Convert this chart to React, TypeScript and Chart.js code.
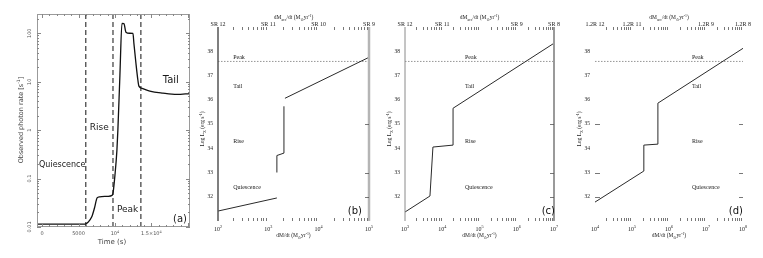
import React, { useEffect, useRef } from "react";
import { Chart, registerables } from "chart.js";
Chart.register(...registerables);

const SANS = "'DejaVu Sans', 'Liberation Sans', sans-serif";
const SERIF = "'Liberation Serif', 'DejaVu Serif', serif";

// ---------- Panel (a): light curve ----------
const lightCurveTime = [-700, 5900, 6300, 6800, 7200, 7550, 7900, 9000, 9600, 9730, 10000, 10270, 10400, 10680, 10960, 11230, 11510, 12000, 12470, 12600, 12880, 13150, 13290, 13700, 14790, 16580, 18490, 20270];
const lightCurveRate = [0.0115, 0.0115, 0.0125, 0.016, 0.025, 0.04, 0.042, 0.043, 0.045, 0.05, 0.118, 0.386, 1.0, 13.6, 160, 158, 105, 100, 99, 62, 24, 10.7, 8.1, 7.3, 6.4, 5.8, 5.45, 5.7];
const phaseBoundaries = [6000, 9730, 13560];
const aXRange = [-700, 20300];
const aYRange = [0.01, 250];
const aYTicks = [0.01, 0.1, 1, 10, 100];
const aYTickLabels = ["0.01", "0.1", "1", "10", "100"];
const aXTicks = [0, 5000, 10000, 15000];
const aXTickLabels: [string, number][][] = [[["0", 0]], [["5000", 0]], [["10", 0], ["4", 1]], [["1.5×10", 0], ["4", 1]]];
const aPhaseNames = ["Quiescence", "Rise", "Peak", "Tail"];
const aPhaseTime = [-420, 6550, 10270, 16550];
const aPhaseRate = [0.19, 1.1, 0.0224, 10.7];
const aPhaseSize = [8, 9, 9, 10];

// ---------- Panels (b)-(d): log L vs dM/dt ----------
const logLRange = [31, 39];
const logLTicks = [32, 33, 34, 35, 36, 37, 38];
const sideTicks = [32, 33, 35];
const peakLogL = 37.58;
const regionNames = ["Peak", "Tail", "Rise", "Quiescence"];
const regionLogL = [37.76, 36.53, 34.3, 32.4];

const bMdotRange = [1e2, 1e5];
const bTopLabels = ["SR 12", "SR 11", "SR 10", "SR 9"];
const bSegMdot = [[100, 1479], [1479, 1479, 2042, 2042], [2138, 100000]];
const bSegLogL = [[31.41, 31.95], [33.0, 33.7, 33.8, 35.73], [36.06, 37.75]];
const bRegionMdot = 200;

const cMdotRange = [1e3, 1e7];
const cTopLabels = ["SR 12", "SR 11", "", "SR 9", "SR 8"];
const cSegMdot = [[1000, 4677, 5623, 19498, 19498, 1e7]];
const cSegLogL = [[31.37, 32.03, 34.05, 34.13, 35.65, 38.33]];
const cRegionMdot = 40738;

const dMdotRange = [1e4, 1e8];
const dTopLabels = ["1.2R 12", "1.2R 11", "", "1.2R 9", "1.2R 8"];
const dSegMdot = [[1e4, 208930, 208930, 501187, 501187, 1e8]];
const dSegLogL = [[31.78, 33.06, 34.13, 34.17, 35.86, 38.12]];
const dRegionMdot = 4.17e6;

type Part = [string, number];

function drawRich(ctx: CanvasRenderingContext2D, parts: Part[], x: number, y: number, size: number, family: string, align: string) {
  let w = 0;
  for (const [t, m] of parts) {
    ctx.font = `${m ? size * 0.7 : size}px ${family}`;
    w += ctx.measureText(t).width;
  }
  let cx = align === "center" ? x - w / 2 : align === "right" ? x - w : x;
  ctx.textAlign = "left";
  ctx.textBaseline = "middle";
  for (const [t, m] of parts) {
    const s = m ? size * 0.7 : size;
    ctx.font = `${s}px ${family}`;
    ctx.fillText(t, cx, y + (m === 1 ? -size * 0.35 : m === -1 ? size * 0.3 : 0));
    cx += ctx.measureText(t).width;
  }
}

function seg(ctx: CanvasRenderingContext2D, x1: number, y1: number, x2: number, y2: number) {
  ctx.beginPath();
  ctx.moveTo(x1, y1);
  ctx.lineTo(x2, y2);
  ctx.stroke();
}

const lightCurvePlugin = {
  id: "lightCurveDecor",
  afterDraw(chart: any) {
    const { ctx, chartArea: a } = chart;
    const x = chart.scales.x, y = chart.scales.y;
    ctx.save();
    ctx.strokeStyle = "#9a9a9a";
    ctx.lineWidth = 1;
    ctx.strokeRect(a.left + 0.5, a.top + 0.5, a.right - a.left - 1, a.bottom - a.top - 1);
    ctx.strokeStyle = "#888";
    for (let e = -2; e <= 2; e++) {
      for (let k = 1; k <= 9; k++) {
        const v = k * Math.pow(10, e);
        if (v < aYRange[0] || v > aYRange[1]) continue;
        const py = Math.round(y.getPixelForValue(v)) + 0.5;
        const len = k === 1 ? 4 : 2;
        seg(ctx, a.left, py, a.left + len, py);
        seg(ctx, a.right, py, a.right - len, py);
      }
    }
    for (let t = 0; t <= 20000; t += 1000) {
      const px = Math.round(x.getPixelForValue(t)) + 0.5;
      const len = t % 5000 === 0 ? 4 : 2;
      seg(ctx, px, a.bottom, px, a.bottom - len);
      seg(ctx, px, a.top, px, a.top + len);
    }
    ctx.fillStyle = "#555";
    aYTicks.forEach((v, i) => {
      ctx.save();
      ctx.translate(30, y.getPixelForValue(v));
      ctx.rotate(-Math.PI / 2);
      drawRich(ctx, [[aYTickLabels[i], 0]], 0, 0, 5, SANS, "center");
      ctx.restore();
    });
    aXTicks.forEach((t, i) => {
      drawRich(ctx, aXTickLabels[i], x.getPixelForValue(t), 234, 5, SANS, "center");
    });
    ctx.fillStyle = "#444";
    drawRich(ctx, [["Time (s)", 0]], 112, 242, 7, SANS, "center");
    ctx.save();
    ctx.translate(21, 120);
    ctx.rotate(-Math.PI / 2);
    drawRich(ctx, [["Observed photon rate [s", 0], ["-1", 1], ["]", 0]], 0, 0, 6.5, SANS, "center");
    ctx.restore();
    ctx.fillStyle = "#1a1a1a";
    aPhaseNames.forEach((n, i) => {
      drawRich(ctx, [[n, 0]], x.getPixelForValue(aPhaseTime[i]), y.getPixelForValue(aPhaseRate[i]), aPhaseSize[i], SANS, "left");
    });
    drawRich(ctx, [["(a)", 0]], a.right - 3, 219, 10, SANS, "right");
    ctx.restore();
  },
};

function lightCurveConfig(): any {
  const datasets: any[] = [
    {
      data: lightCurveTime.map((t, i) => ({ x: t, y: lightCurveRate[i] })),
      borderColor: "#111",
      borderWidth: 1.3,
      pointRadius: 0,
      cubicInterpolationMode: "monotone",
      fill: false,
    },
    ...phaseBoundaries.map((t) => ({
      data: [{ x: t, y: aYRange[0] }, { x: t, y: aYRange[1] }],
      borderColor: "#111",
      borderWidth: 1,
      borderDash: [5, 3],
      pointRadius: 0,
      fill: false,
    })),
  ];
  return {
    type: "line",
    data: { datasets },
    options: {
      animation: false,
      responsive: false,
      events: [],
      layout: { padding: { left: 0, right: 6, top: 14, bottom: 0 } },
      plugins: { legend: { display: false }, tooltip: { enabled: false } },
      scales: {
        x: {
          type: "linear", min: aXRange[0], max: aXRange[1],
          grid: { display: false }, border: { display: false }, ticks: { display: false },
          afterFit: (s: any) => { s.height = 31; },
        },
        y: {
          type: "logarithmic", min: aYRange[0], max: aYRange[1],
          grid: { display: false }, border: { display: false }, ticks: { display: false },
          afterFit: (s: any) => { s.width = 37; },
        },
      },
    },
    plugins: [lightCurvePlugin],
  };
}

interface PanelSpec {
  range: number[];
  topLabels: string[];
  segMdot: number[][];
  segLogL: number[][];
  regionMdot: number;
  letter: string;
  letterOffset: number;
  yWidth: number;
  padRight: number;
  leftLine: null | [string, number];
  rightLine: null | [string, number];
  leftTicks: boolean;
}

function budgetPlugin(p: PanelSpec) {
  return {
    id: "budgetDecor",
    afterDraw(chart: any) {
      const { ctx, chartArea: a } = chart;
      const x = chart.scales.x, y = chart.scales.y;
      ctx.save();
      if (p.leftLine) {
        ctx.strokeStyle = p.leftLine[0];
        ctx.lineWidth = p.leftLine[1];
        seg(ctx, a.left, a.top, a.left, a.bottom);
      }
      if (p.rightLine) {
        ctx.strokeStyle = p.rightLine[0];
        ctx.lineWidth = p.rightLine[1];
        seg(ctx, a.right, a.top, a.right, a.bottom);
      }
      ctx.strokeStyle = "#555";
      ctx.lineWidth = 0.8;
      const e0 = Math.round(Math.log10(p.range[0]));
      const e1 = Math.round(Math.log10(p.range[1]));
      for (let e = e0; e < e1; e++) {
        for (let k = 2; k <= 9; k++) {
          const px = Math.round(x.getPixelForValue(k * Math.pow(10, e))) + 0.5;
          seg(ctx, px, a.top, px, a.top + 3);
          seg(ctx, px, a.bottom - 3, px, a.bottom);
        }
      }
      sideTicks.forEach((v) => {
        const py = Math.round(y.getPixelForValue(v)) + 0.5;
        seg(ctx, a.right - 4, py, a.right, py);
        if (p.leftTicks) seg(ctx, a.left, py, a.left + 5, py);
      });
      ctx.fillStyle = "#222";
      logLTicks.forEach((v) => {
        drawRich(ctx, [[String(v), 0]], a.left - 5, y.getPixelForValue(v), 5.5, SERIF, "right");
      });
      for (let e = e0; e <= e1; e++) {
        const px = x.getPixelForValue(Math.pow(10, e));
        drawRich(ctx, [["10", 0], [String(e), 1]], px, 229, 6, SERIF, "center");
        const tl = p.topLabels[e - e0];
        if (tl) drawRich(ctx, [[tl, 0]], px, 24, 6, SERIF, "center");
      }
      const cx = (a.left + a.right) / 2;
      drawRich(ctx, [["dM/dt (M", 0], ["⊙", -1], ["yr", 0], ["-1", 1], [")", 0]], cx, 236, 5.5, SERIF, "center");
      drawRich(ctx, [["dM", 0], ["acc", -1], ["/dt (M", 0], ["⊙", -1], ["yr", 0], ["-1", 1], [")", 0]], cx, 18, 5.5, SERIF, "center");
      ctx.save();
      ctx.translate(a.left - 15, (a.top + a.bottom) / 2 + 5);
      ctx.rotate(-Math.PI / 2);
      drawRich(ctx, [["Log L", 0], ["X", -1], [" (erg s", 0], ["-1", 1], [")", 0]], 0, 0, 5.5, SERIF, "center");
      ctx.restore();
      regionNames.forEach((n, i) => {
        drawRich(ctx, [[n, 0]], x.getPixelForValue(p.regionMdot), y.getPixelForValue(regionLogL[i]), 6, SERIF, "left");
      });
      ctx.fillStyle = "#111";
      drawRich(ctx, [[p.letter, 0]], a.right + p.letterOffset, 211, 10, SANS, "right");
      ctx.restore();
    },
  };
}

function budgetConfig(p: PanelSpec): any {
  const datasets: any[] = p.segMdot.map((ms, i) => ({
    data: ms.map((m, j) => ({ x: m, y: p.segLogL[i][j] })),
    borderColor: "#2a2a2a",
    borderWidth: 1,
    pointRadius: 0,
    tension: 0,
    fill: false,
  }));
  datasets.push({
    data: [{ x: p.range[0], y: peakLogL }, { x: p.range[1], y: peakLogL }],
    borderColor: "#7a7a7a",
    borderWidth: 0.8,
    borderDash: [1.5, 1.5],
    pointRadius: 0,
    fill: false,
  });
  return {
    type: "line",
    data: { datasets },
    options: {
      animation: false,
      responsive: false,
      events: [],
      layout: { padding: { left: 0, right: p.padRight, top: 27, bottom: 0 } },
      plugins: { legend: { display: false }, tooltip: { enabled: false } },
      scales: {
        x: {
          type: "logarithmic", min: p.range[0], max: p.range[1],
          grid: { display: false }, border: { display: false }, ticks: { display: false },
          afterFit: (s: any) => { s.height = 37; },
        },
        y: {
          type: "linear", min: logLRange[0], max: logLRange[1],
          grid: { display: false }, border: { display: false }, ticks: { display: false },
          afterFit: (s: any) => { s.width = p.yWidth; },
        },
      },
    },
    plugins: [budgetPlugin(p)],
  };
}

const panelB: PanelSpec = {
  range: bMdotRange, topLabels: bTopLabels, segMdot: bSegMdot, segLogL: bSegLogL, regionMdot: bRegionMdot,
  letter: "(b)", letterOffset: -7, yWidth: 22, padRight: 11,
  leftLine: ["#555", 1.5], rightLine: ["#b5b5b5", 2.5], leftTicks: false,
};
const panelC: PanelSpec = {
  range: cMdotRange, topLabels: cTopLabels, segMdot: cSegMdot, segLogL: cSegLogL, regionMdot: cRegionMdot,
  letter: "(c)", letterOffset: 1, yWidth: 25, padRight: 16,
  leftLine: ["#8a8a8a", 1], rightLine: ["#9a9a9a", 2], leftTicks: false,
};
const panelD: PanelSpec = {
  range: dMdotRange, topLabels: dTopLabels, segMdot: dSegMdot, segLogL: dSegLogL, regionMdot: dRegionMdot,
  letter: "(d)", letterOffset: 0, yWidth: 25, padRight: 20,
  leftLine: null, rightLine: null, leftTicks: true,
};

function ChartCanvas({ left, width, make }: { left: number; width: number; make: () => any }) {
  const ref = useRef<HTMLCanvasElement>(null);
  useEffect(() => {
    const chart = new Chart(ref.current as HTMLCanvasElement, make());
    return () => chart.destroy();
  }, []);
  return (
    <canvas
      ref={ref}
      width={width}
      height={258}
      style={{ position: "absolute", left, top: 0, width, height: 258 }}
    />
  );
}

export default function App() {
  return (
    <div style={{ position: "absolute", left: 0, top: 0, width: 763, height: 258, background: "#fff", overflow: "hidden" }}>
      <ChartCanvas left={0} width={196} make={lightCurveConfig} />
      <ChartCanvas left={196} width={184} make={() => budgetConfig(panelB)} />
      <ChartCanvas left={380} width={190} make={() => budgetConfig(panelC)} />
      <ChartCanvas left={570} width={193} make={() => budgetConfig(panelD)} />
    </div>
  );
}
